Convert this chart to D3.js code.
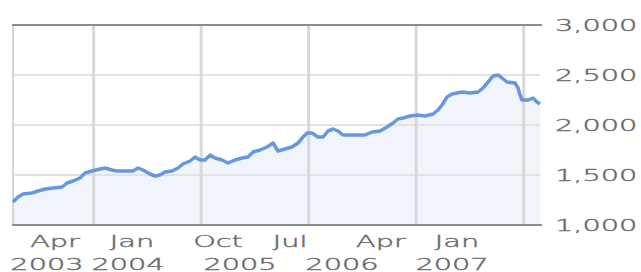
<!DOCTYPE html>
<meta charset="utf-8">
<style>

body { margin: 0; background: #fff; }
text { font-family: "DejaVu Sans", sans-serif; font-size: 16px; font-weight: 200;
       fill: #555; stroke: #777; stroke-width: 0.45px; }

</style>
<body>

<script src="https://d3js.org/d3.v7.min.js"></script>
<script>

// the series (decimal year, value)
var years = [2003.250, 2003.297, 2003.343, 2003.427, 2003.483, 2003.548, 2003.622, 2003.706,
             2003.752, 2003.808, 2003.873, 2003.920, 2003.985, 2004.059, 2004.106, 2004.171,
             2004.217, 2004.292, 2004.366, 2004.413, 2004.459, 2004.524, 2004.571, 2004.617,
             2004.664, 2004.729, 2004.785, 2004.831, 2004.897, 2004.943, 2004.990, 2005.036,
             2005.083, 2005.129, 2005.194, 2005.250, 2005.315, 2005.380, 2005.436, 2005.483,
             2005.548, 2005.613, 2005.669, 2005.715, 2005.780, 2005.845, 2005.901, 2005.948,
             2005.985, 2006.031, 2006.087, 2006.134, 2006.180, 2006.227, 2006.273, 2006.320,
             2006.403, 2006.524, 2006.590, 2006.664, 2006.729, 2006.785, 2006.831, 2006.878,
             2006.943, 2007.017, 2007.083, 2007.157, 2007.203, 2007.241, 2007.287, 2007.334,
             2007.427, 2007.501, 2007.576, 2007.622, 2007.669, 2007.715, 2007.762, 2007.799,
             2007.845, 2007.920, 2007.948, 2007.966, 2007.985, 2008.041, 2008.087, 2008.124,
             2008.152];
var values = [1230, 1280, 1310, 1320, 1340, 1360, 1370, 1380,
              1420, 1440, 1470, 1520, 1540, 1560, 1570, 1550,
              1540, 1540, 1540, 1570, 1550, 1510, 1490, 1500,
              1530, 1540, 1570, 1610, 1640, 1680, 1650, 1650,
              1700, 1670, 1650, 1620, 1650, 1670, 1680, 1730,
              1750, 1780, 1820, 1740, 1760, 1780, 1820, 1880,
              1920, 1920, 1880, 1880, 1940, 1960, 1940, 1900,
              1900, 1900, 1930, 1940, 1980, 2020, 2060, 2070,
              2090, 2100, 2090, 2110, 2150, 2200, 2280, 2310,
              2330, 2320, 2330, 2370, 2430, 2490, 2500, 2470,
              2430, 2420, 2370, 2300, 2250, 2250, 2270, 2230,
              2210];

// axes
var yTicks = [1000, 1500, 2000, 2500, 3000];
var gridYears = [2004, 2005, 2006, 2007, 2008];
var monthLabels = ["Apr", "Jan", "Oct", "Jul", "Apr", "Jan"];
var monthAt = [2003.641, 2004.357, 2005.157, 2005.827, 2006.673, 2007.380];
var yearLabels = ["2003", "2004", "2005", "2006", "2007"];
var yearAt = [2003.566, 2004.320, 2005.362, 2006.310, 2007.334];

var data = years.map(function(d, i) { return {t: d, v: values[i]}; });

var margin = {top: 25, right: 101, bottom: 47, left: 13},
    width = 641 - margin.left - margin.right,
    height = 272 - margin.top - margin.bottom;

var x = d3.scaleLinear()
          .domain([years[0], years[years.length - 1]])
          .range([0, width]);
var y = d3.scaleLinear()
          .domain([1000, 3000])
          .range([height, 0]);

var svg = d3.select("body").append("svg")
    .attr("width", width + margin.left + margin.right)
    .attr("height", height + margin.top + margin.bottom)
  .append("g")
    .attr("transform", "translate(" + margin.left + "," + margin.top + ")");

// area under the line
var area = d3.area()
    .x(function(d) { return x(d.t); })
    .y0(height)
    .y1(function(d) { return y(d.v); });

svg.append("path")
    .datum(data)
    .attr("fill", "#f1f4fa")
    .attr("d", area);

// horizontal grid
svg.selectAll(".hgrid")
    .data(yTicks.slice(1, -1))
  .enter().append("line")
    .attr("x1", 0).attr("x2", width)
    .attr("y1", y).attr("y2", y)
    .attr("stroke", "#e3e3e3")
    .attr("stroke-width", 2);

// vertical grid
svg.selectAll(".vgrid")
    .data(gridYears)
  .enter().append("line")
    .attr("x1", x).attr("x2", x)
    .attr("y1", 0).attr("y2", height)
    .attr("stroke", "#d8d8d8")
    .attr("stroke-width", 3);

svg.append("line")
    .attr("x1", 0).attr("x2", 0)
    .attr("y1", 0).attr("y2", height)
    .attr("stroke", "#d4d4d4")
    .attr("stroke-width", 2);

// top and bottom border
svg.selectAll(".border")
    .data([yTicks[0], yTicks[yTicks.length - 1]])
  .enter().append("line")
    .attr("x1", -1).attr("x2", width + 2)
    .attr("y1", y).attr("y2", y)
    .attr("stroke", "#8c8c8c")
    .attr("stroke-width", 2);

// the line
var line = d3.line()
    .x(function(d) { return x(d.t); })
    .y(function(d) { return y(d.v); });

svg.append("path")
    .datum(data)
    .attr("fill", "none")
    .attr("stroke", "#6797de")
    .attr("stroke-width", 3.5)
    .attr("stroke-linejoin", "round")
    .attr("d", line);

// y labels on the right, stretched like the original
svg.selectAll(".ylab")
    .data(yTicks)
  .enter().append("text")
    .attr("transform", function(d) {
      return "translate(" + (width + 15) + "," + (y(d) + 6) + ") scale(1.8,1)"; })
    .text(d3.format(","));

// x labels, two rows
svg.selectAll(".mlab")
    .data(monthLabels)
  .enter().append("text")
    .attr("text-anchor", "middle")
    .attr("transform", function(d, i) {
      return "translate(" + x(monthAt[i]) + "," + (height + 22) + ") scale(1.8,1)"; })
    .text(function(d) { return d; });

svg.selectAll(".ylab2")
    .data(yearLabels)
  .enter().append("text")
    .attr("text-anchor", "middle")
    .attr("transform", function(d, i) {
      return "translate(" + x(yearAt[i]) + "," + (height + 45) + ") scale(1.8,1)"; })
    .text(function(d) { return d; });

</script>
</body>
